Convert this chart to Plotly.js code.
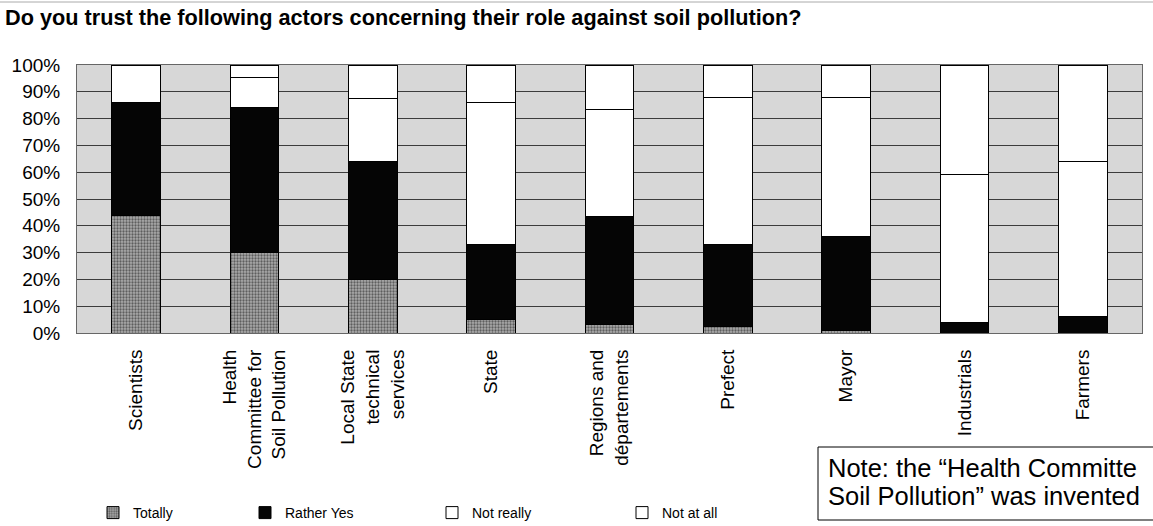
<!DOCTYPE html>
<html><head><meta charset="utf-8">
<script src="https://cdn.plot.ly/plotly-3.0.1.min.js"></script>
<style>html,body{margin:0;padding:0;background:#fff}</style>
</head><body>
<div id="chart" style="width:1153px;height:526px"></div>
<script>
const categories = ["Scientists","Health<br>Committee for<br>Soil Pollution","Local State<br>technical<br>services","State","Regions and<br>départements","Prefect","Mayor","Industrials","Farmers"];
const totally    = [44, 30, 20, 5, 3, 2.5, 1, 0, 0];
const ratherYes  = [42, 54, 44, 28, 40.5, 30.5, 35, 4, 6];
const notReally  = [14, 11.5, 23.5, 53, 40, 55, 52, 55, 58];
const notAtAll   = [0, 4.5, 12.5, 14, 16.5, 12, 12, 41, 36];
const seriesNames = ["Totally","Rather Yes","Not really","Not at all"];
const yTickVals = [0,10,20,30,40,50,60,70,80,90,100];
const yTickText = yTickVals.map(v => v + "%");
const noteLines = ["Note: the “Health Committe", "Soil Pollution” was invented"];

const FONT = "Arial, Liberation Sans, sans-serif";
const W = 1153, H = 526, ML = 77, MR = 11, MT = 65, MB = 193;
const PW = W - ML - MR, PH = H - MT - MB;
const px = x => (x - ML) / PW;          // pixel -> paper x
const py = y => (H - MB - y) / PH;      // pixel -> paper y

const line = {color:"#000", width:1};
const traces = [
  {name:seriesNames[0], y:totally, legend:"legend",  marker:{color:"#9e9e9e", line:line, pattern:{shape:".", fgcolor:"#5e5e5e", bgcolor:"#ababab", size:3, solidity:0.45}}},
  {name:seriesNames[1], y:ratherYes, legend:"legend2", marker:{color:"#050505", line:line}},
  {name:seriesNames[2], y:notReally, legend:"legend3", marker:{color:"#ffffff", line:line}},
  {name:seriesNames[3], y:notAtAll, legend:"legend4", marker:{color:"#ffffff", line:line}}
].map(t => Object.assign({type:"bar", x:categories, hoverinfo:"none"}, t));

const legendBase = {orientation:"h", xanchor:"left", y:py(513), yanchor:"middle",
  font:{size:14, family:FONT}, itemwidth:30, bgcolor:"rgba(0,0,0,0)"};
const legendX = [93, 245, 432, 622];

const layout = {
  width:W, height:H,
  margin:{l:ML, r:MR, t:MT, b:MB, autoexpand:false},
  paper_bgcolor:"#ffffff",
  plot_bgcolor:"#d7d7d7",
  barmode:"stack",
  bargap:0.59,
  font:{family:FONT, color:"#000", size:19},
  title:{text:"<b>Do you trust the following actors concerning their role against soil pollution?</b>",
         x:5/W, xref:"container", xanchor:"left", y:1-17/H, yref:"container", yanchor:"middle",
         font:{size:21.7, family:FONT, color:"#000"}},
  xaxis:{tickangle:-90, tickfont:{size:19}, showline:true, linecolor:"#666", mirror:true, ticks:"", showgrid:false,
         ticklabelstandoff:8, automargin:false},
  yaxis:{range:[0,100], tickvals:yTickVals, ticktext:yTickText, tickfont:{size:19}, automargin:false,
         showgrid:true, gridcolor:"#3c3c3c", gridwidth:1, showline:true, linecolor:"#666", mirror:true, ticks:"", zeroline:false,
         ticklabelstandoff:12},
  legend: Object.assign({}, legendBase, {x:px(legendX[0])}),
  legend2:Object.assign({}, legendBase, {x:px(legendX[1])}),
  legend3:Object.assign({}, legendBase, {x:px(legendX[2])}),
  legend4:Object.assign({}, legendBase, {x:px(legendX[3])}),
  showlegend:true,
  shapes:[
    {type:"line", xref:"paper", yref:"paper", x0:px(0), x1:px(W), y0:py(2), y1:py(2), line:{color:"#aaaaaa", width:1}},
    {type:"rect", xref:"paper", yref:"paper", layer:"above", x0:px(818), x1:px(W+20), y0:py(447), y1:py(520),
     fillcolor:"#ffffff", line:{color:"#000", width:1}}
  ],
  annotations: noteLines.map((t, i) => ({xref:"paper", yref:"paper", x:px(826), xanchor:"left", y:py(468 + i*28), yanchor:"middle",
    text:t, showarrow:false, font:{size:25.5, family:FONT, color:"#000"}}))
};
Plotly.newPlot("chart", traces, layout, {staticPlot:true, displayModeBar:false});
</script>
</body></html>
